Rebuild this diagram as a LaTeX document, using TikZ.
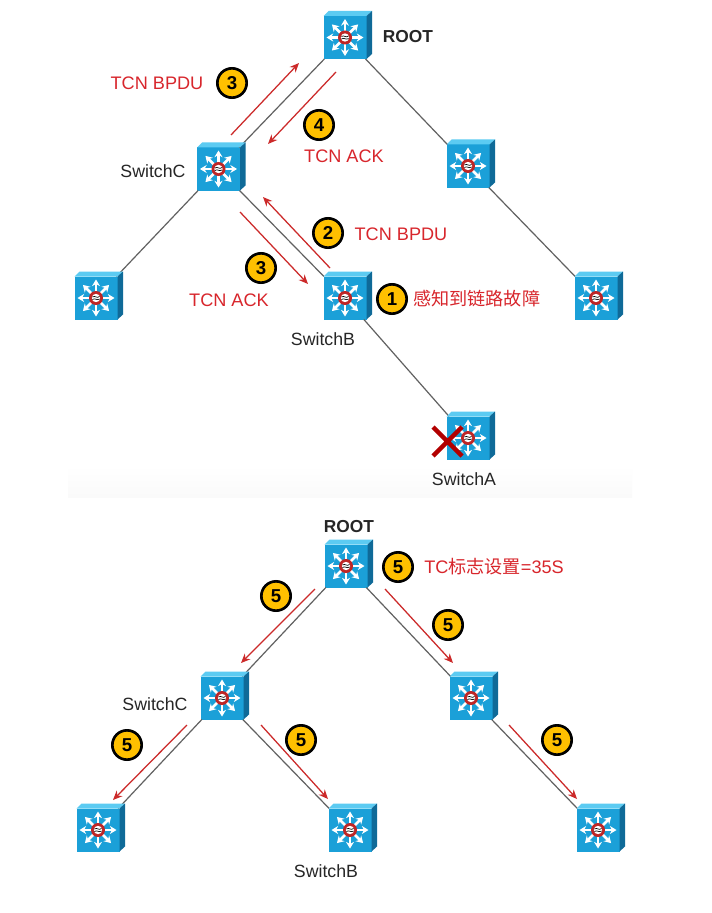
\documentclass[tikz,border=0pt]{standalone}
\usepackage{fontspec}
\setmainfont{Liberation Sans}
\newfontfamily\cjk{Noto Sans CJK SC}
\usetikzlibrary{arrows.meta}
\definecolor{swblue}{HTML}{1BA0D8}
\definecolor{swtop}{HTML}{5CCBF2}
\definecolor{swside}{HTML}{0F6A98}
\definecolor{redtxt}{HTML}{D8262C}
\definecolor{redarr}{HTML}{CC2A2A}
\definecolor{badge}{HTML}{FFC000}
\tikzset{
  x=0.75pt,y=-0.75pt,
  swnode/.style={rectangle,minimum size=32.25pt,inner sep=0pt,outer sep=0pt,fill=swblue,draw=none},
  link/.style={draw=black!62,line width=0.9pt},
  tn/.style={line width=0.95pt,draw=redarr,-{Stealth[length=7pt,width=6pt]}},
  ray/.style={white,line width=2pt,-{Stealth[length=5pt,width=6pt]}},
  badgenode/.style={circle,fill=badge,draw=black,line width=2pt,minimum size=22pt,inner sep=0pt,font=\fontsize{14}{14}\selectfont\bfseries},
  lab/.style={inner sep=0pt,font=\fontsize{13.3}{15}\selectfont,text=black!85},
  blab/.style={lab,font=\fontsize{13}{15}\selectfont\bfseries},
  rlab/.style={inner sep=0pt,font=\fontsize{13.6}{15}\selectfont,text=redtxt},
}
\newcommand{\swplace}[3]{\node[swnode] (#1) at (#2,#3) {};}
\newcommand{\swface}[1]{%
  \begin{scope}[shift={(#1)}]
    \fill[swtop] (-21.5,-21.5) -- (-16.5,-26.5) -- (27,-26.5) -- (21.5,-21.5) -- cycle;
    \fill[swside] (21.5,-21.5) -- (27,-26.5) -- (27,16.5) -- (21.5,21.5) -- cycle;
    \foreach \a in {0,45,...,315}
      \draw[ray] (0,0) -- (\a:18.5);
    \fill[red!70!black!85] (0,0) circle (7);
    \fill[white] (0,0) circle (4.2);
    \draw[black,line width=0.5pt] (-3.5,-1) .. controls (-1,-3) and (1,1) .. (3.5,-1.5);
    \draw[black,line width=0.5pt] (-3.5,1.5) .. controls (-1,-0.5) and (1,3) .. (3.5,1);
  \end{scope}}
\begin{document}
\begin{tikzpicture}
\useasboundingbox (0,0) rectangle (711,913);
\fill[white] (0,0) rectangle (711,913);
\shade[top color=white,bottom color=black!2] (68,465) rectangle (632,497);
% switches (front faces)
\swplace{sroot}{345}{37.5}
\swplace{sc}{218.5}{169}
\swplace{sr}{468}{166}
\swplace{sl}{96}{298}
\swplace{sb}{345}{298}
\swplace{sfr}{596}{298}
\swplace{sa}{468}{438}
\swplace{troot}{346}{566}
\swplace{tc}{222}{698}
\swplace{tr}{471}{698}
\swplace{tl}{98}{830}
\swplace{tb}{350}{830}
\swplace{tfr}{598}{830}
% links
\draw[link] (sroot) -- (sc);
\draw[link] (sroot) -- (sr);
\draw[link] (sc) -- (sl);
\draw[link] (sc) -- (sb);
\draw[link] (sr) -- (sfr);
\draw[link] (sb) -- (sa);
\draw[link] (troot) -- (tc);
\draw[link] (troot) -- (tr);
\draw[link] (tc) -- (tl);
\draw[link] (tc) -- (tb);
\draw[link] (tr) -- (tfr);
% switch details
\foreach \s in {sroot,sc,sr,sl,sb,sfr,sa,troot,tc,tr,tl,tb,tfr} {\swface{\s}}
% red X
\draw[red!70!black,line width=3.2pt] (433,427) -- (462,456) (462,427) -- (433,456);
% arrow end points
\foreach \n/\x/\y in {a1/231/135,a2/299/63,b1/336/72,b2/268/144,c1/330/268,c2/263/197,d1/240/212,d2/308/284,
  e1/315/589,e2/241/663,f1/385/589,f2/453/663,g1/187/725,g2/113/800,h1/261/725,h2/328/799,i1/509/725,i2/577/799}
  \coordinate (\n) at (\x,\y);
\foreach \p/\q in {a1/a2,b1/b2,c1/c2,d1/d2,e1/e2,f1/f2,g1/g2,h1/h2,i1/i2}
  \draw[tn] (\p) -- (\q);
% badges
\foreach \n/\x/\y/\t in {p1/232/83/3,p2/319/125/4,p3/328/233/2,p4/261/268/3,p5/392/299/1,
  q1/398/567/5,q2/276/596/5,q3/448/625/5,q4/127/745/5,q5/301/740/5,q6/557/740/5}
  \node[badgenode] (\n) at (\x,\y) {\t};
% labels
\node[blab] (l1) at (408,37) {ROOT};
\node[rlab] (l2) at (157,83) {TCN BPDU};
\node[rlab] (l3) at (344,156) {TCN ACK};
\node[lab] (l4) at (153,171) {SwitchC};
\node[rlab] (l5) at (401,234) {TCN BPDU};
\node[rlab] (l6) at (229,300) {TCN ACK};
\node[rlab,anchor=west] (l7) at (413,299) {\cjk 感知到链路故障};
\node[lab] (l8) at (323,339) {SwitchB};
\node[lab] (l9) at (464,479) {SwitchA};
\node[blab] (l10) at (349,527) {ROOT};
\node[rlab,anchor=west] (l11) at (424,567) {TC\cjk 标志设置\rmfamily =35S};
\node[lab] (l12) at (155,704) {SwitchC};
\node[lab] (l13) at (326,871) {SwitchB};
\end{tikzpicture}
\end{document}
